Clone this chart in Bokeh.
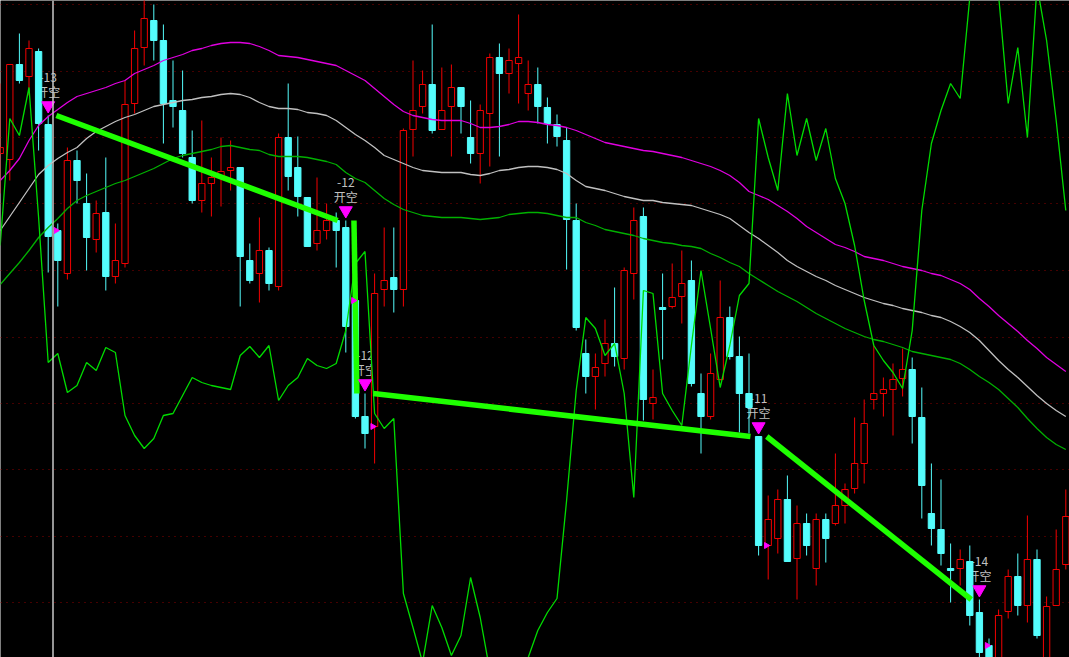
import numpy as np
from bokeh.plotting import figure
from bokeh.models import Range1d, Span, FixedTicker, ColumnDataSource
from bokeh.embed import file_html
from bokeh.resources import INLINE
from bokeh.core.properties import value

ROW0 = 657

open_rows = [153,159,64,76,51,124,230,273,160,203,
             239,212,276,263,103,47,20,40,100,110,
             157,200,183,177,170,167,260,273,250,286,
             137,167,197,243,230,220,227,300,416,426,
             289,277,289,129,106,84,129,106,87,137,
             153,113,57,73,63,93,84,107,124,140,
             220,353,376,363,343,358,273,216,403,307,
             306,296,280,393,416,379,317,356,393,436,
             545,538,499,558,523,568,519,523,505,488,
             463,399,393,389,378,369,417,513,529,568,
             568,561,612,645,680,611,576,605,559,680,
             605,564]
high_rows = [83,64,33,40,48,115,223,147,150,173,
             200,157,223,80,30,-3,4,24,60,70,
             130,120,157,137,140,167,243,217,247,133,
             83,136,197,177,203,212,220,290,393,273,
             227,227,128,60,70,24,67,64,87,100,
             104,53,43,48,14,60,67,97,114,127,
             203,339,353,319,287,267,207,207,369,273,
             263,250,260,373,353,280,306,336,353,436,
             495,489,475,505,513,513,513,453,483,417,
             399,345,377,363,348,357,387,463,479,543,
             549,545,599,638,609,569,553,515,549,596,
             529,489]
low_rows = [193,180,83,95,150,272,306,279,203,270,
            252,290,283,267,113,65,60,143,127,157,
            203,212,216,206,190,306,283,302,290,290,
            190,216,246,250,239,267,352,418,448,463,
            306,312,306,156,113,133,129,156,133,163,
            183,166,156,93,103,110,123,143,146,269,
            330,393,409,376,366,369,299,420,419,359,
            308,323,386,453,419,380,359,432,433,555,
            579,553,561,599,555,585,562,525,523,493,
            483,409,416,435,396,443,518,545,565,602,
            585,625,657,675,690,618,615,622,638,690,
            605,569]
close_rows = [147,64,80,48,123,236,260,160,180,237,
              213,276,260,104,48,18,40,103,106,153,
              200,183,177,171,167,256,280,250,283,137,
              176,196,246,230,220,230,326,416,433,293,
              280,289,130,110,84,130,110,87,106,153,
              110,57,73,60,57,84,106,123,136,219,
              327,376,367,343,356,270,220,399,397,309,
              297,283,383,416,373,317,356,393,407,545,
              519,499,561,523,545,519,538,505,489,463,
              423,393,389,379,369,416,485,528,553,570,
              559,615,652,670,615,576,605,559,635,606,
              569,516]

ma_magenta_rows = [180,170,158,140,125,116,109,102,96,93,
                   90,87,83,80,73,69,65,60,57,54,
                   50,48,45,43,42,42,43,46,50,55,
                   56,57,59,61,63,65,70,75,80,88,
                   96,104,111,115,117,119,120,120,120,123,
                   127,127,126,124,121,121,122,124,125,127,
                   130,134,138,142,144,146,148,150,151,153,
                   155,157,160,163,166,170,175,182,191,195,
                   199,205,211,218,226,232,238,244,247,251,
                   256,258,260,263,266,268,270,273,275,279,
                   283,289,298,306,315,323,331,340,348,357,
                   364,371]
ma_white_rows = [230,216,202,188,174,165,158,152,147,138,
                 131,126,121,117,114,110,106,104,102,100,
                 99,97,96,94,93,94,97,102,106,108,
                 108,109,112,113,115,120,127,134,140,147,
                 155,159,163,167,170,171,172,172,172,174,
                 175,173,170,169,167,166,166,167,169,173,
                 180,186,188,190,193,196,198,200,200,202,
                 203,204,205,208,211,214,218,225,232,238,
                 245,252,260,266,271,276,280,285,289,293,
                 297,300,303,305,308,310,312,315,317,321,
                 326,332,340,350,360,369,377,386,395,403,
                 410,416]
ma_green_rows = [284,273,262,250,237,227,218,208,200,195,
                 191,187,183,180,176,172,168,163,158,155,
                 153,151,149,146,145,147,149,150,154,156,
                 156,156,157,159,161,164,172,178,182,190,
                 198,204,209,212,215,216,217,217,217,218,
                 219,218,217,214,213,212,212,213,215,217,
                 217,222,225,229,231,233,235,238,240,242,
                 243,245,246,248,253,257,262,266,273,279,
                 285,291,296,301,307,313,318,323,328,332,
                 336,339,341,344,347,351,353,355,357,359,
                 363,369,376,382,389,398,407,418,428,437,
                 444,449]
osc_rows = [245,118,135,87,217,362,353,392,385,362,
            370,347,352,415,435,448,438,415,413,395,
            377,382,385,387,389,355,346,357,345,400,
            385,377,358,365,368,363,330,263,251,413,
            428,418,593,627,662,605,627,655,635,577,
            617,670,700,710,690,657,630,612,598,500,
            390,317,328,355,343,393,497,290,293,393,
            410,425,345,270,328,387,345,295,283,118,
            157,190,93,155,118,160,128,178,203,245,
            300,345,360,372,388,330,210,143,110,83,
            98,-3,-60,-40,-5,103,47,137,-15,40,
            120,210]

signal_idx = [5, 36, 38, 79, 102]
signal_labels = ["-13", "-12", "-12", "-11", "-14"]
signal_word = "开空"
grid_rows = [4, 70.5, 137, 203, 270, 336.5, 403, 469, 536, 602]
cursor_idx = 5.5

# ---- convert to prices
o = ROW0 - np.array(open_rows, dtype=float)
h = ROW0 - np.array(high_rows, dtype=float)
l = ROW0 - np.array(low_rows, dtype=float)
c = ROW0 - np.array(close_rows, dtype=float)
ma1 = ROW0 - np.array(ma_magenta_rows, dtype=float)
ma2 = ROW0 - np.array(ma_white_rows, dtype=float)
ma3 = ROW0 - np.array(ma_green_rows, dtype=float)
osc = ROW0 - np.array(osc_rows, dtype=float)
grid_levels = [ROW0 - g for g in grid_rows]
idx = np.arange(len(o))

RED = "#f20000"
CYAN = "#54fcfc"

# view: candle k sits at pixel X0 + DX*k of the frame
X0, DX = -0.3, 9.6
W, H = 1069, 657
p = figure(width=W, height=H,
           x_range=Range1d((0 - X0) / DX, (W - X0) / DX),
           y_range=Range1d(ROW0 - H, ROW0),
           output_backend="svg", toolbar_location=None,
           x_axis_location=None, y_axis_location=None,
           background_fill_color="black", border_fill_color="black",
           outline_line_color=None, min_border=0)
p.xgrid.visible = False
p.ygrid.ticker = FixedTicker(ticks=grid_levels)
p.ygrid.grid_line_color = "#8a0000"
p.ygrid.grid_line_dash = "1 5"
p.ygrid.grid_line_width = 1

p.add_layout(Span(location=cursor_idx, dimension="height",
                  line_color="#c8c8c8", line_width=1.5))

# signal texts (under candles)
sig = np.array(signal_idx)
sh = h[sig]
p.text(x=sig, y=sh + 38, text=signal_labels, text_color="#c0c0c0",
       text_font=value("Noto Sans CJK SC"), text_font_size="12px",
       text_align="center", text_baseline="middle")
p.text(x=sig, y=sh + 24, text=[signal_word] * len(sig), text_color="#c0c0c0",
       text_font=value("Noto Sans CJK SC"), text_font_size="12px",
       text_align="center", text_baseline="middle")

up = c > o
src = ColumnDataSource(dict(
    x=idx, o=o, h=h, l=l, c=c,
    top=np.maximum(o, c), bot=np.minimum(o, c),
    col=[RED if u else CYAN for u in up],
    fill=["black" if u else CYAN for u in up],
))
p.segment(x0="x", y0="h", x1="x", y1="l", line_color="col", line_width=1, source=src)
p.vbar(x="x", width=0.66, top="top", bottom="bot", fill_color="fill",
       line_color="col", line_width=1, source=src)

# moving averages and oscillator
p.line(idx, ma1, line_color="#e000e0", line_width=1.3)
p.line(idx, ma2, line_color="#c0c0c0", line_width=1.3)
p.line(idx, ma3, line_color="#00b000", line_width=1.3)
p.line(idx, osc, line_color="#00dc00", line_width=1.3)

# thick signal connectors
d = 0.85
p.segment(x0=sig[:-1] + d, y0=sh[:-1], x1=sig[1:] - d, y1=sh[1:],
          line_color="#1eff00", line_width=5.5)

# markers
p.scatter(x=sig, y=sh + 10, marker="inverted_triangle", size=13,
          fill_color="#ff00ff", line_color="#ff00ff")
nxt = sig + 1
p.scatter(x=nxt - 0.2, y=o[nxt], marker="triangle", angle=-np.pi / 2, size=6,
          fill_color="#ff00ff", line_color="#ff00ff")

open("out.html", "w").write(file_html(p, INLINE))
